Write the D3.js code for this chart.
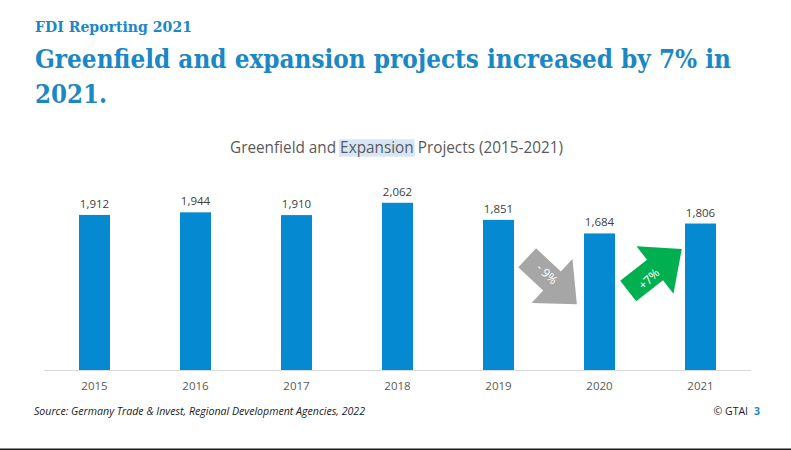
<!DOCTYPE html>
<html>
<head>
<meta charset="utf-8">
<script src="https://cdn.jsdelivr.net/npm/d3@7"></script>
<style>
  html, body { margin: 0; padding: 0; background: #ffffff; }
  svg { display: block; }
</style>
</head>
<body>
<svg id="chart" width="791" height="450"></svg>
<script>
// ---- data ----
const years = ["2015", "2016", "2017", "2018", "2019", "2020", "2021"];
const projects = [1912, 1944, 1910, 2062, 1851, 1684, 1806];
const changeLabels = ["- 9%", "+7%"];
const kicker = "FDI Reporting 2021";
const headline = ["Greenfield and expansion projects increased by 7% in", "2021."];
const chartTitle = "Greenfield and Expansion Projects (2015-2021)";
const highlightWord = "Expansion";
const sourceText = "Source: Germany Trade & Invest, Regional Development Agencies, 2022";
const copyrightText = "© GTAI";
const pageNumber = "3";

// ---- setup ----
const svg = d3.select("#chart");
const blue = "#1b87c5";
const barColor = "#0589d0";
const sans = "'Open Sans', 'DejaVu Sans', sans-serif";
const serif = "'DejaVu Serif Condensed', 'DejaVu Serif', 'Liberation Serif', serif";

// header
svg.append("text")
  .attr("x", 35).attr("y", 31.7)
  .attr("font-family", serif).attr("font-weight", "bold")
  .attr("font-size", 15).attr("fill", blue)
  .attr("textLength", 157).attr("lengthAdjust", "spacingAndGlyphs")
  .text(kicker);

svg.append("text")
  .attr("x", 35).attr("y", 67.5)
  .attr("font-family", serif).attr("font-weight", "bold")
  .attr("font-size", 26.5).attr("fill", blue)
  .attr("textLength", 696).attr("lengthAdjust", "spacingAndGlyphs")
  .text(headline[0]);

svg.append("text")
  .attr("x", 35).attr("y", 102.5)
  .attr("font-family", serif).attr("font-weight", "bold")
  .attr("font-size", 26.5).attr("fill", blue)
  .attr("textLength", 72).attr("lengthAdjust", "spacingAndGlyphs")
  .text(headline[1]);

// chart title with highlighted word
const hlRect = svg.append("rect").attr("fill", "#d6e6f7");
const titleText = svg.append("text")
  .attr("x", 230).attr("y", 152.5)
  .attr("font-family", sans).attr("font-size", 15.5)
  .attr("fill", "#595959")
  .attr("textLength", 333).attr("lengthAdjust", "spacingAndGlyphs")
  .text(chartTitle);
(function () {
  const node = titleText.node();
  const i0 = chartTitle.indexOf(highlightWord);
  const i1 = i0 + highlightWord.length - 1;
  try {
    const s = node.getStartPositionOfChar(i0).x;
    const e = node.getEndPositionOfChar(i1).x;
    hlRect.attr("x", s - 1).attr("width", e - s + 2);
  } catch (err) {
    hlRect.attr("x", 339).attr("width", 73);
  }
  hlRect.attr("y", 139.3).attr("height", 17.4);
})();

// ---- scales ----
const x = d3.scaleBand()
  .domain(years)
  .range([44, 751])
  .paddingInner(0.693)
  .paddingOuter(0.3465);

const y = d3.scaleLinear()
  .domain([0, 2500])
  .range([370, 167.25]);

// bars
svg.append("g").selectAll("rect")
  .data(years)
  .join("rect")
  .attr("x", d => x(d))
  .attr("width", x.bandwidth())
  .attr("y", (d, i) => y(projects[i]))
  .attr("height", (d, i) => y(0) - y(projects[i]))
  .attr("fill", barColor);

// value labels
const fmt = d3.format(",");
svg.append("g").selectAll("text")
  .data(years)
  .join("text")
  .attr("x", d => x(d) + x.bandwidth() / 2)
  .attr("y", (d, i) => y(projects[i]) - 7)
  .attr("text-anchor", "middle")
  .attr("font-family", sans).attr("font-size", 11.5)
  .attr("fill", "#404040")
  .text((d, i) => fmt(projects[i]));

// x axis
const xAxis = svg.append("g")
  .attr("transform", `translate(0,${y(0)})`)
  .call(d3.axisBottom(x).tickSize(0).tickPadding(12));
xAxis.select(".domain").attr("stroke", "#d9d9d9").attr("stroke-width", 1)
  .attr("d", "M44,0.5H751");
xAxis.selectAll("text")
  .attr("font-family", sans).attr("font-size", 11.5)
  .attr("fill", "#595959");

// ---- change arrows ----
function blockArrow(cx, cy, angle, color, label, lx, ly, lAngle) {
  const g = svg.append("g");
  const pts = [
    [-34, -13], [0, -13], [0, -30], [34, 0], [0, 30], [0, 13], [-34, 13]
  ];
  g.append("path")
    .attr("d", d3.line()(pts) + "Z")
    .attr("fill", color)
    .attr("transform", `translate(${cx},${cy}) rotate(${angle})`);
  g.append("text")
    .attr("transform", `translate(${lx},${ly}) rotate(${lAngle})`)
    .attr("text-anchor", "middle")
    .attr("dy", "0.35em")
    .attr("font-family", sans).attr("font-size", 12)
    .attr("fill", "#ffffff")
    .text(label);
}
blockArrow(552, 281, 43, "#a6a6a6", changeLabels[0], 547, 274, 45);
blockArrow(655, 270, -38, "#00b050", changeLabels[1], 649, 279, -45);

// ---- footer ----
svg.append("text")
  .attr("x", 34).attr("y", 415)
  .attr("font-family", sans).attr("font-style", "italic")
  .attr("font-size", 10.5).attr("fill", "#1a1a1a")
  .attr("textLength", 331).attr("lengthAdjust", "spacingAndGlyphs")
  .text(sourceText);

svg.append("text")
  .attr("x", 748).attr("y", 415)
  .attr("text-anchor", "end")
  .attr("font-family", sans).attr("font-size", 10.5).attr("fill", "#1a1a1a")
  .text(copyrightText);

svg.append("text")
  .attr("x", 754).attr("y", 415)
  .attr("font-family", sans).attr("font-weight", "bold")
  .attr("font-size", 10.5).attr("fill", blue)
  .text(pageNumber);

svg.append("line")
  .attr("x1", 0).attr("x2", 791)
  .attr("y1", 449.2).attr("y2", 449.2)
  .attr("stroke", "#1a1a1a").attr("stroke-width", 1.6);
</script>
</body>
</html>
